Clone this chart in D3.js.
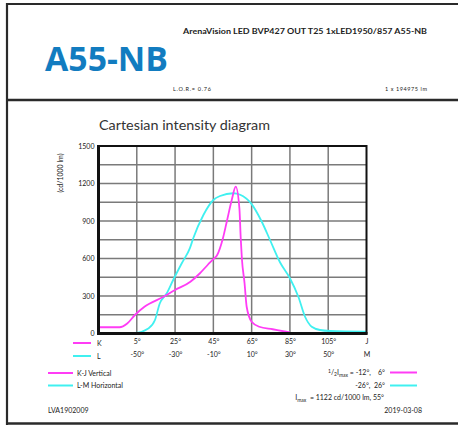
<!DOCTYPE html>
<html><head><meta charset="utf-8">
<script src="https://cdn.jsdelivr.net/npm/d3@7"></script>
<style>body{margin:0;background:#fff}svg{display:block}text{font-family:Lato,"Open Sans",sans-serif;fill:#222;white-space:pre}</style>
</head><body><svg id="c" width="458" height="425"></svg>
<script>
// K-J vertical (magenta), angle on K axis
const kjAngles=[-15,-4,0,4,9,19,25,33,38,42,45,47,50,52,54.6,56.7,58.6,59.3,59.9,61.3,62.4,65,69,76,83,85];
const kjValues=[50,50,80,148,214,294,348,414,482,548,595,628,762,894,1068,1175,1002,762,600,402,214,94,54,34,14,8];
// L-M horizontal (cyan), angle on L axis
const lmAngles=[-70,-51,-44,-40.5,-38,-34.4,-31,-26.5,-22.2,-20.5,-15.2,-10,-6.5,0.4,4,9.7,15.3,19.6,24.8,30,34.4,37.9,41.4,45.7,51,70];
const lmValues=[5,5,40,108,240,320,428,562,685,762,948,1068,1100,1122,1110,1041,894,748,570,442,294,134,54,28,20,14];
const yTicks=[0,300,600,900,1200,1500];
const yGridStep=150;
const kDomain=[-15,125];
const lDomain=[-70,70];
const kTicks=[5,25,45,65,85,105,125];
const kTickLabels=["5°","25°","45°","65°","85°","105°","J"];
const lTicks=[-50,-30,-10,10,30,50,70];
const lTickLabels=["-50°","-30°","-10°","10°","30°","50°","M"];

const svg=d3.select("#c");
const L=98.5,R=366.5,T=146,B=333.5;
const magenta="#ff3cf5", cyan="#40f0f0";
const y=d3.scaleLinear().domain([0,1500]).range([B,T]);
const xK=d3.scaleLinear().domain(kDomain).range([L,R]);
const xL=d3.scaleLinear().domain(lDomain).range([L,R]);

// frame
const fr=svg.append("g").attr("stroke","#2a2a2a").attr("fill","none");
fr.append("line").attr("x1",6).attr("x2",458).attr("y1",4).attr("y2",4).attr("stroke-width",2.2);
fr.append("line").attr("x1",6).attr("x2",458).attr("y1",100).attr("y2",100).attr("stroke-width",2.6);
fr.append("line").attr("x1",7).attr("x2",7).attr("y1",3).attr("y2",425).attr("stroke-width",2.2);
fr.append("line").attr("x1",6).attr("x2",458).attr("y1",423.5).attr("y2",423.5).attr("stroke-width",2.4);

// header
svg.append("text").attr("x",183).attr("y",34).attr("font-size",7).attr("font-weight","bold")
  .attr("textLength",244).attr("lengthAdjust","spacingAndGlyphs")
  .text("ArenaVision LED BVP427 OUT T25 1xLED1950/857 A55-NB");
svg.append("text").attr("x",45).attr("y",71).attr("font-size",34).attr("font-weight","bold")
  .style("fill","#127cc0").style("font-family","'Open Sans',sans-serif")
  .attr("textLength",123).attr("lengthAdjust","spacingAndGlyphs").text("A55-NB");
svg.append("text").attr("x",173).attr("y",91).attr("font-size",5.5).attr("textLength",38).text("L.O.R.= 0.76");
svg.append("text").attr("x",385).attr("y",91).attr("font-size",5.5).attr("textLength",42).text("1 x 194975 lm");

// title
svg.append("text").attr("x",99).attr("y",129.5).attr("font-size",13).style("fill","#333")
  .attr("textLength",171).attr("lengthAdjust","spacingAndGlyphs").text("Cartesian intensity diagram");
svg.append("text").attr("transform","translate(63,173) rotate(-90)").attr("text-anchor","middle")
  .attr("font-size",7).text("(cd/1000 lm)");

// grid
const g=svg.append("g").attr("stroke","#7a7a7a").attr("stroke-width",1.5);
g.selectAll(".hg").data(d3.range(yGridStep,1500,yGridStep)).join("line")
  .attr("x1",L).attr("x2",R).attr("y1",d=>y(d)).attr("y2",d=>y(d));
g.selectAll(".vg").data(kTicks.filter(d=>d<kDomain[1])).join("line")
  .attr("y1",T).attr("y2",B).attr("x1",d=>xK(d)).attr("x2",d=>xK(d));

// curves
const line=(xs)=>d3.line().x(d=>xs(d[0])).y(d=>y(d[1])).curve(d3.curveMonotoneX);
svg.append("path").datum(lmAngles.map((a,i)=>[a,lmValues[i]])).attr("d",line(xL))
  .attr("fill","none").attr("stroke",cyan).attr("stroke-width",1.8);
svg.append("path").datum(kjAngles.map((a,i)=>[a,kjValues[i]])).attr("d",line(xK))
  .attr("fill","none").attr("stroke",magenta).attr("stroke-width",1.8);

// plot frame
svg.append("rect").attr("x",L).attr("y",T).attr("width",R-L).attr("height",B-T)
  .attr("fill","none").attr("stroke","#111").attr("stroke-width",2);
svg.append("line").attr("x1",L).attr("x2",L).attr("y1",T-1).attr("y2",B+1.5).attr("stroke","#111").attr("stroke-width",3);
svg.append("line").attr("x1",L-1.5).attr("x2",R+1).attr("y1",B).attr("y2",B).attr("stroke","#111").attr("stroke-width",3);

// y axis
const ya=svg.append("g").attr("transform",`translate(${L},0)`)
  .call(d3.axisLeft(y).tickValues(yTicks).tickSize(0).tickPadding(4).tickFormat(d3.format("d")));
ya.select(".domain").remove();
ya.selectAll("text").attr("font-size",7).style("font-family","Lato,sans-serif").style("fill","#222");

// x axes
function xAxis(scale,ticks,labels,yy){
  const a=svg.append("g").attr("transform",`translate(0,${yy})`)
    .call(d3.axisBottom(scale).tickValues(ticks).tickSize(0).tickPadding(0).tickFormat((d,i)=>labels[i]));
  a.select(".domain").remove();
  a.selectAll("text").attr("font-size",7).style("font-family","Lato,sans-serif").style("fill","#222");
}
xAxis(xK,kTicks,kTickLabels,339.5);
xAxis(xL,lTicks,lTickLabels,352.5);
svg.append("text").attr("x",97).attr("y",345.5).attr("font-size",7).text("K");
svg.append("text").attr("x",97).attr("y",358.5).attr("font-size",7).text("L");
svg.append("line").attr("x1",73).attr("x2",91).attr("y1",343).attr("y2",343).attr("stroke",magenta).attr("stroke-width",2);
svg.append("line").attr("x1",73).attr("x2",91).attr("y1",356).attr("y2",356).attr("stroke",cyan).attr("stroke-width",2);

// legend
svg.append("line").attr("x1",48).attr("x2",73).attr("y1",373).attr("y2",373).attr("stroke",magenta).attr("stroke-width",2);
svg.append("line").attr("x1",48).attr("x2",73).attr("y1",385.5).attr("y2",385.5).attr("stroke",cyan).attr("stroke-width",2);
svg.append("text").attr("x",77).attr("y",375.5).attr("font-size",7).text("K-J Vertical");
svg.append("text").attr("x",77).attr("y",388).attr("font-size",7).text("L-M Horizontal");
svg.append("text").attr("x",48).attr("y",412.5).attr("font-size",7).text("LVA1902009");

// right info
const t1=svg.append("text").attr("x",385).attr("y",375).attr("font-size",7).attr("text-anchor","end");
t1.append("tspan").attr("font-size",5).attr("dy",-2).text("1");
t1.append("tspan").attr("dy",2).text("/");
t1.append("tspan").attr("font-size",5).attr("dy",1).text("2");
t1.append("tspan").attr("dy",-1).text("I");
t1.append("tspan").attr("font-size",5).attr("dy",1.5).text("max");
t1.append("tspan").attr("dy",-1.5).text(" = -12°,    6°");
svg.append("text").attr("x",385).attr("y",388).attr("font-size",7).attr("text-anchor","end").text("-26°,  26°");
const t3=svg.append("text").attr("x",384).attr("y",400).attr("font-size",7).attr("text-anchor","end");
t3.append("tspan").text("I");
t3.append("tspan").attr("font-size",5).attr("dy",1.5).text("max");
t3.append("tspan").attr("dy",-1.5).text("  = 1122 cd/1000 lm, 55°");
svg.append("text").attr("x",422).attr("y",412.5).attr("font-size",7).attr("text-anchor","end").text("2019-03-08");
svg.append("line").attr("x1",390).attr("x2",417).attr("y1",372.5).attr("y2",372.5).attr("stroke",magenta).attr("stroke-width",2);
svg.append("line").attr("x1",390).attr("x2",417).attr("y1",385.5).attr("y2",385.5).attr("stroke",cyan).attr("stroke-width",2);
</script></body></html>
